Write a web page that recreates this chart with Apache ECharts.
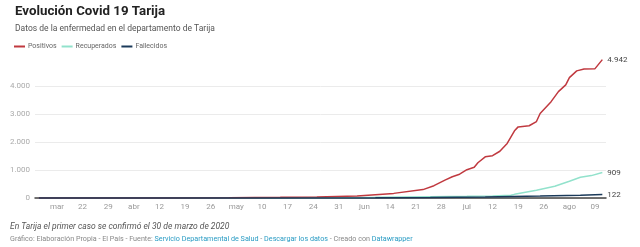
<!DOCTYPE html>
<html>
<head>
<meta charset="utf-8">
<script src="https://cdn.jsdelivr.net/npm/echarts@6/dist/echarts.min.js"></script>
<style>
  html, body { margin: 0; padding: 0; background: #fff; }
  #chart { width: 640px; height: 247px; }
</style>
</head>
<body>
<div id="chart"></div>
<script>
// eje x: un dia por categoria, del 9 de marzo al 12 de agosto de 2020
var firstDay = '2020-03-09';
var dayCount = 157;
var tickLabels = ['mar','22','29','abr','12','19','26','may','10','17','24','31','jun','14','21','28','jul','12','19','26','ago','09'];
var firstTickIndex = 6; // 15 de marzo

// datos
var positivosDates = ['03-10','03-30','04-15','05-01','05-15','05-25','06-05','06-15','06-23','06-26','06-29','07-01','07-03','07-05','07-07','07-08','07-10','07-12','07-14','07-16','07-18','07-19','07-22','07-24','07-25','07-28','07-30','08-01','08-02','08-04','08-06','08-09','08-11'];
var positivosValues = [0, 1, 4, 12, 25, 40, 75, 165, 300, 440, 640, 760, 850, 1010, 1100, 1260, 1470, 1510, 1670, 1950, 2400, 2540, 2580, 2730, 3020, 3440, 3800, 4040, 4300, 4540, 4610, 4620, 4942];
var recuperadosDates = ['03-10','04-15','05-01','05-20','06-10','06-25','07-05','07-12','07-17','07-18','07-24','07-29','08-02','08-05','08-08','08-11'];
var recuperadosValues = [0, 0, 3, 10, 25, 45, 60, 75, 95, 130, 280, 420, 600, 740, 800, 909];
var fallecidosDates = ['03-10','04-15','05-15','06-10','06-25','07-10','07-25','08-05','08-11'];
var fallecidosValues = [0, 0, 2, 8, 20, 40, 70, 100, 122];

var categories = [];
var d0 = new Date(firstDay + 'T00:00:00Z');
for (var i = 0; i < dayCount; i++) {
  var d = new Date(d0.getTime() + i * 86400000);
  var mm = ('0' + (d.getUTCMonth() + 1)).slice(-2);
  var dd = ('0' + d.getUTCDate()).slice(-2);
  categories.push(mm + '-' + dd);
}

function pairs(dates, values) {
  return dates.map(function (d, i) { return [d, values[i]]; });
}
function fmt(v) {
  return String(v).replace(/\B(?=(\d{3})+(?!\d))/g, '.');
}

var font = 'Roboto, "Noto Sans", sans-serif';
var chart = echarts.init(document.getElementById('chart'));
var option = {
  animation: false,
  textStyle: { fontFamily: font },
  title: {
    text: 'Evolución Covid 19 Tarija',
    subtext: 'Datos de la enfermedad en el departamento de Tarija',
    left: 10,
    top: 0,
    itemGap: 6,
    textStyle: { fontFamily: font, fontSize: 13.3, fontWeight: 'bold', color: '#222' },
    subtextStyle: { fontFamily: font, fontSize: 8.5, color: '#555' }
  },
  legend: {
    left: 9,
    top: 38,
    icon: 'rect',
    itemWidth: 11,
    itemHeight: 2,
    itemGap: 5,
    textStyle: { fontFamily: font, fontSize: 7, color: '#666', padding: [0, 0, 0, -2] },
    data: ['Positivos', 'Recuperados', 'Fallecidos']
  },
  grid: { left: 35, right: 34, top: 86, bottom: 49 },
  xAxis: {
    type: 'category',
    boundaryGap: false,
    data: categories,
    axisLine: { show: true, lineStyle: { color: '#444', width: 1.5 } },
    axisTick: { show: false },
    splitLine: { show: false },
    axisLabel: {
      color: '#999',
      fontSize: 8,
      margin: 5,
      interval: function (idx) {
        return idx >= firstTickIndex && (idx - firstTickIndex) % 7 === 0 &&
          (idx - firstTickIndex) / 7 < tickLabels.length;
      },
      formatter: function (val, idx) {
        return tickLabels[(idx - firstTickIndex) / 7] || '';
      }
    }
  },
  yAxis: {
    type: 'value',
    min: 0,
    max: 4000,
    interval: 1000,
    axisLine: { show: false },
    axisTick: { show: false },
    splitLine: { lineStyle: { color: '#ebebeb', width: 1 } },
    axisLabel: {
      color: '#aaa',
      fontSize: 8,
      margin: 5,
      formatter: function (v) { return fmt(v); }
    }
  },
  series: [
    {
      name: 'Positivos',
      type: 'line',
      clip: false,
      symbol: 'none',
      z: 3,
      lineStyle: { color: '#c0393f', width: 1.5 },
      itemStyle: { color: '#c0393f' },
      endLabel: { show: true, color: '#444', fontSize: 8, distance: 5, formatter: function (p) { return fmt(p.value[1]); } },
      data: pairs(positivosDates, positivosValues)
    },
    {
      name: 'Recuperados',
      type: 'line',
      clip: false,
      symbol: 'none',
      z: 2,
      lineStyle: { color: '#92e2cc', width: 1.5 },
      itemStyle: { color: '#92e2cc' },
      endLabel: { show: true, color: '#444', fontSize: 8, distance: 5, formatter: function (p) { return fmt(p.value[1]); } },
      data: pairs(recuperadosDates, recuperadosValues)
    },
    {
      name: 'Fallecidos',
      type: 'line',
      clip: false,
      symbol: 'none',
      z: 4,
      lineStyle: { color: '#1b3a5a', width: 1.5 },
      itemStyle: { color: '#1b3a5a' },
      endLabel: { show: true, color: '#444', fontSize: 8, distance: 5, formatter: function (p) { return fmt(p.value[1]); } },
      data: pairs(fallecidosDates, fallecidosValues)
    }
  ],
  graphic: [
    {
      type: 'text',
      left: 10,
      top: 222,
      style: {
        text: 'En Tarija el primer caso se confirmó el 30 de marzo de 2020',
        font: 'italic 8.5px ' + font,
        fill: '#555'
      }
    },
    {
      type: 'text',
      left: 10,
      top: 236,
      style: {
        text: '{g|Gráfico: Elaboración Propia - El País - Fuente: }{l|Servicio Departamental de Salud}{g| - }{l|Descargar los datos}{g| - Creado con }{l|Datawrapper}',
        rich: {
          g: { fontFamily: font, fontSize: 7.2, fill: '#888' },
          l: { fontFamily: font, fontSize: 7.2, fill: '#2a9cc4' }
        }
      }
    }
  ]
};
chart.setOption(option);
</script>
</body>
</html>
